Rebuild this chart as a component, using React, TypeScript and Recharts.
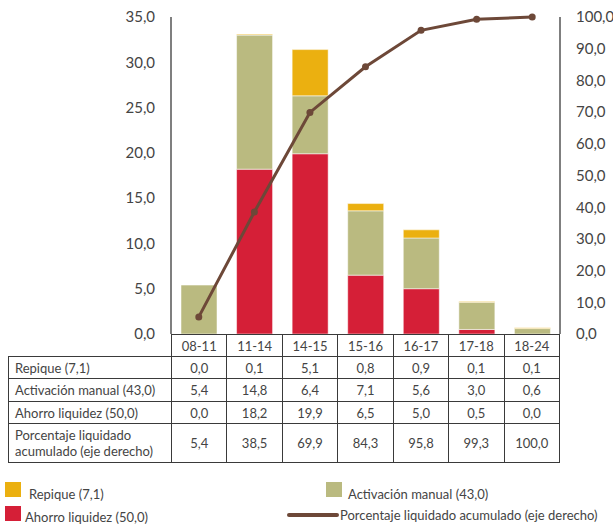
import React from "react";
import {
  ComposedChart,
  Bar,
  Line,
  XAxis,
  YAxis,
} from "recharts";

const categories = ["08-11", "11-14", "14-15", "15-16", "16-17", "17-18", "18-24"];
const repique = [0.0, 0.1, 5.1, 0.8, 0.9, 0.1, 0.1];
const activacion = [5.4, 14.8, 6.4, 7.1, 5.6, 3.0, 0.6];
const ahorro = [0.0, 18.2, 19.9, 6.5, 5.0, 0.5, 0.0];
const acumulado = [5.4, 38.5, 69.9, 84.3, 95.8, 99.3, 100.0];

const leftTicks = [0, 5, 10, 15, 20, 25, 30, 35];
const rightTicks = [0, 10, 20, 30, 40, 50, 60, 70, 80, 90, 100];

const rowLabels = [
  "Repique (7,1)",
  "Activación manual (43,0)",
  "Ahorro liquidez (50,0)",
  "Porcentaje liquidado acumulado (eje derecho)",
];

const RED = "#d51f37";
const OLIVE = "#baba80";
const YELLOW = "#ebb010";
const BROWN = "#6d4838";
const TEXT = "#444";
const FONT = "Lato, 'Open Sans', sans-serif";

const fmt = (v: number) => v.toFixed(1).replace(".", ",");

const data = categories.map((c, i) => ({
  cat: c,
  repique: repique[i],
  activacion: activacion[i],
  ahorro: ahorro[i],
  acumulado: acumulado[i],
}));

const tableRows = [repique, activacion, ahorro, acumulado];
const rowHeights = [22, 22, 23, 22, 39];
const border = "1.5px solid #3a3a3a";

function DataTable() {
  return (
    <div
      style={{
        position: "absolute",
        left: 8,
        top: 334,
        width: 552,
        display: "grid",
        gridTemplateColumns: "163px repeat(7, 1fr)",
        gridTemplateRows: rowHeights.map((h) => h + "px").join(" "),
        borderRight: border,
        borderBottom: border,
        boxSizing: "border-box",
        fontFamily: FONT,
        fontSize: 13,
        color: TEXT,
      }}
    >
      <div />
      {categories.map((c) => (
        <div
          key={c}
          style={{
            borderLeft: border,
            borderTop: border,
            display: "flex",
            alignItems: "center",
            justifyContent: "center",
          }}
        >
          {c}
        </div>
      ))}
      {tableRows.map((row, r) => (
        <React.Fragment key={r}>
          <div
            style={{
              borderLeft: border,
              borderTop: border,
              display: "flex",
              alignItems: "center",
              paddingLeft: 6,
              lineHeight: "16px",
            }}
          >
            {r === 3 ? (
              <span>
                Porcentaje liquidado
                <br />
                acumulado (eje derecho)
              </span>
            ) : (
              rowLabels[r]
            )}
          </div>
          {row.map((v, i) => (
            <div
              key={i}
              style={{
                borderLeft: border,
                borderTop: border,
                display: "flex",
                alignItems: "center",
                justifyContent: "center",
              }}
            >
              {fmt(v)}
            </div>
          ))}
        </React.Fragment>
      ))}
    </div>
  );
}

function Swatch({ color }: { color: string }) {
  return <div style={{ width: 16, height: 15, background: color }} />;
}

function LegendBox() {
  const text: React.CSSProperties = {
    position: "absolute",
    fontFamily: FONT,
    fontSize: 13,
    color: TEXT,
    whiteSpace: "nowrap",
  };
  return (
    <>
      <div style={{ position: "absolute", left: 5, top: 482 }}>
        <Swatch color={YELLOW} />
      </div>
      <div style={{ ...text, left: 29, top: 486 }}>{rowLabels[0]}</div>
      <div style={{ position: "absolute", left: 5, top: 506 }}>
        <Swatch color={RED} />
      </div>
      <div style={{ ...text, left: 25, top: 509 }}>{rowLabels[2]}</div>
      <div style={{ position: "absolute", left: 326, top: 482 }}>
        <Swatch color={OLIVE} />
      </div>
      <div style={{ ...text, left: 348, top: 486 }}>{rowLabels[1]}</div>
      <div
        style={{
          position: "absolute",
          left: 287,
          top: 513,
          width: 52,
          height: 4,
          background: BROWN,
          borderRadius: 2,
        }}
      />
      <div style={{ ...text, left: 340, top: 507 }}>{rowLabels[3]}</div>
    </>
  );
}

export default function App() {
  return (
    <div
      style={{
        position: "absolute",
        left: 0,
        top: 0,
        width: 613,
        height: 524,
        background: "#fff",
        overflow: "hidden",
      }}
    >
      <ComposedChart
        width={613}
        height={524}
        data={data}
        margin={{ top: 17, right: 0, left: 0, bottom: 190 }}
        barCategoryGap="18%"
      >
        <XAxis dataKey="cat" hide />
        <YAxis
          yAxisId="left"
          orientation="left"
          width={171}
          domain={[0, 35]}
          ticks={leftTicks}
          tickFormatter={fmt}
          tickLine={false}
          tickMargin={10}
          axisLine={{ stroke: "#555", strokeWidth: 1.5 }}
          tick={{ fill: TEXT, fontSize: 15, fontFamily: FONT }}
        />
        <YAxis
          yAxisId="right"
          orientation="right"
          width={53}
          domain={[0, 100]}
          ticks={rightTicks}
          tickFormatter={fmt}
          tickLine={false}
          tickMargin={10}
          axisLine={{ stroke: "#555", strokeWidth: 1.5 }}
          tick={{ fill: TEXT, fontSize: 15, fontFamily: FONT }}
        />
        <Bar
          yAxisId="left"
          dataKey="ahorro"
          stackId="a"
          fill={RED}
          stroke="#fff"
          strokeOpacity={0.5}
          isAnimationActive={false}
        />
        <Bar
          yAxisId="left"
          dataKey="activacion"
          stackId="a"
          fill={OLIVE}
          stroke="#fff"
          strokeOpacity={0.5}
          isAnimationActive={false}
        />
        <Bar
          yAxisId="left"
          dataKey="repique"
          stackId="a"
          fill={YELLOW}
          stroke="#fff"
          strokeOpacity={0.5}
          isAnimationActive={false}
        />
        <Line
          yAxisId="right"
          dataKey="acumulado"
          stroke={BROWN}
          strokeWidth={3}
          dot={{ r: 3.5, fill: BROWN, stroke: "none" }}
          isAnimationActive={false}
        />
      </ComposedChart>
      <DataTable />
      <LegendBox />
    </div>
  );
}
